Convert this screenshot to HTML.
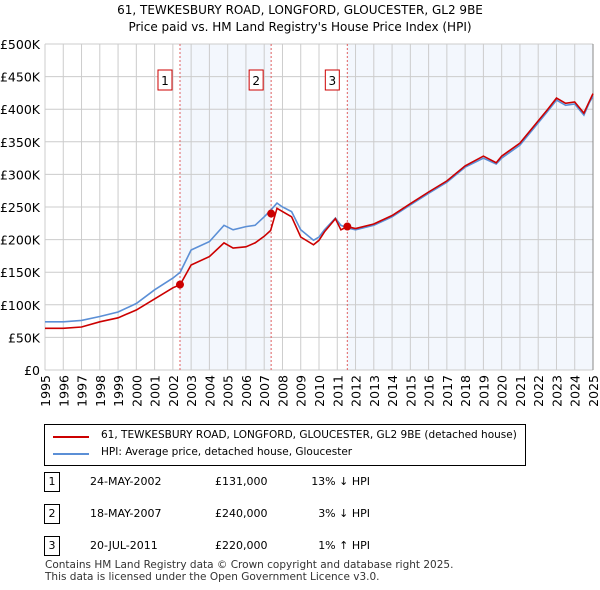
<!DOCTYPE html>
<html><head><meta charset="utf-8"><style>
body{margin:0;background:#fff;font-family:"DejaVu Sans","Liberation Sans",sans-serif;}
#wrap{position:relative;width:600px;height:590px;overflow:hidden}
.t{position:absolute;font-size:11px;color:#000;white-space:nowrap}
</style></head><body><div id="wrap">
<div class="t" style="left:0;width:600px;text-align:center;top:3px;font-size:12px">61, TEWKESBURY ROAD, LONGFORD, GLOUCESTER, GL2 9BE</div>
<div class="t" style="left:0;width:600px;text-align:center;top:20px;font-size:12px">Price paid vs. HM Land Registry's House Price Index (HPI)</div>
<svg id="c" width="600" height="420" style="position:absolute;left:0;top:0"></svg>
<div style="position:absolute;left:44px;top:424px;width:480px;height:40px;border:1px solid #000">
 <div style="position:absolute;left:8px;top:11px;width:36px;height:2px;background:#cc0000"></div>
 <div class="t" style="left:56px;top:4px;font-size:10.5px">61, TEWKESBURY ROAD, LONGFORD, GLOUCESTER, GL2 9BE (detached house)</div>
 <div style="position:absolute;left:8px;top:28px;width:36px;height:2px;background:#5b8fd6"></div>
 <div class="t" style="left:56px;top:21px;font-size:10.5px">HPI: Average price, detached house, Gloucester</div>
</div>
<div id="tbl"></div>
<div class="t" style="left:45px;top:559px;font-size:10.5px;color:#333">Contains HM Land Registry data © Crown copyright and database right 2025.</div>
<div class="t" style="left:45px;top:571px;font-size:10.5px;color:#333">This data is licensed under the Open Government Licence v3.0.</div>
</div>
<script>
const years=[1995,1996,1997,1998,1999,2000,2001,2002,2002.4,2003,2004,2004.8,2005.3,2006,2006.5,2007,2007.35,2007.7,2008,2008.5,2009,2009.7,2010,2010.3,2010.9,2011.2,2011.55,2012,2013,2014,2015,2016,2017,2018,2019,2019.7,2020,2021,2022,2022.5,2023,2023.5,2024,2024.5,2024.8,2025];
const hpi=[74,74,76,82,89,102,123,141,150,184,197,222,215,220,222,235,245,256,250,243,215,199,204,215,233,222,218,215,222,235,253,271,288,311,325,316,325,345,379,396,414,406,408,391,410,420];
const paid=[64,64,66,74,80,92,109,126,131,161,174,195,187,189,195,205,214,248,243,235,204,192,199,212,232,215,220,217,224,237,255,273,290,313,328,318,328,348,382,399,417,409,411,394,412,424];
const yTicks=[0,50,100,150,200,250,300,350,400,450,500];
const yLabels=["£0","£50K","£100K","£150K","£200K","£250K","£300K","£350K","£400K","£450K","£500K"];
const xTicks=[1995,1996,1997,1998,1999,2000,2001,2002,2003,2004,2005,2006,2007,2008,2009,2010,2011,2012,2013,2014,2015,2016,2017,2018,2019,2020,2021,2022,2023,2024,2025];
const saleYears=[2002.39,2007.38,2011.55];
const saleValues=[131,240,220];
const saleLabels=["1","2","3"];
const saleDates=["24-MAY-2002","18-MAY-2007","20-JUL-2011"];
const salePrices=["£131,000","£240,000","£220,000"];
const saleHpi=["13% ↓ HPI","3% ↓ HPI","1% ↑ HPI"];
const X0=45,X1=593,Y0=370,Y1=44;
const xs=y=>X0+(y-1995)/30*(X1-X0);
const ys=v=>Y0-v/500*(Y0-Y1);
const NS="http://www.w3.org/2000/svg",svg=document.getElementById('c');
const FF='DejaVu Sans, Liberation Sans, sans-serif';
function mk(t,a,p){const e=document.createElementNS(NS,t);for(const k in a)e.setAttribute(k,a[k]);(p||svg).appendChild(e);return e;}
let e;
e=mk('rect',{x:xs(saleYears[0]),y:Y1,width:xs(saleYears[1])-xs(saleYears[0]),height:Y0-Y1,fill:'#eef3fc',opacity:0.7});

e=mk('rect',{x:xs(saleYears[2]),y:Y1,width:X1-xs(saleYears[2]),height:Y0-Y1,fill:'#eef3fc',opacity:0.7});

yTicks.forEach((v,i)=>{
 e=mk('line',{x1:X0,x2:X1,y1:ys(v),y2:ys(v),stroke:'#cccccc'});
 
 e=mk('text',{x:40,y:ys(v)+5,'text-anchor':'end','font-size':12.5,fill:'#000','font-family':FF});e.textContent=yLabels[i];
 
});
xTicks.forEach(y=>{
 e=mk('line',{x1:xs(y),x2:xs(y),y1:Y1,y2:Y0,stroke:'#cccccc'});
 
 e=mk('text',{x:0,y:0,'text-anchor':'end','font-size':12.5,fill:'#000','font-family':FF,transform:`translate(${xs(y)+5},375) rotate(-90)`});e.textContent=y;
 
});
e=mk('line',{x1:X1,x2:X1,y1:Y1,y2:Y0,stroke:'#888'});

saleYears.forEach((y,i)=>{
 e=mk('line',{x1:xs(y),x2:xs(y),y1:Y1,y2:Y0,stroke:'#e06060','stroke-dasharray':'2,2'});
 
 e=mk('rect',{x:xs(y)-22,y:70,width:14,height:20,fill:'#fff',stroke:'#cc0000'});
 
 e=mk('text',{x:xs(y)-15,y:85,'text-anchor':'middle','font-size':12,'font-family':FF});e.textContent=saleLabels[i];
 
});
const pts=arr=>arr.map((v,i)=>xs(years[i]).toFixed(1)+','+ys(v).toFixed(1)).join(' ');
e=mk('polyline',{points:pts(hpi),fill:'none',stroke:'#5b8fd6','stroke-width':1.6});

e=mk('polyline',{points:pts(paid),fill:'none',stroke:'#cc0000','stroke-width':1.6});

saleYears.forEach((y,i)=>{
 e=mk('circle',{cx:xs(y),cy:ys(saleValues[i]),r:4,fill:'#cc0000'});
 
});
const tbl=document.getElementById('tbl');
saleDates.forEach((d,i)=>{
 const top=472+i*32;
 const r=document.createElement('div');
 
 r.style.cssText=`position:absolute;left:0;top:${top}px;width:600px;height:20px;font-size:11px`;
 r.innerHTML=`<div style="position:absolute;left:44px;top:0;width:14px;height:18px;border:1px solid #000;text-align:center;line-height:18px">${saleLabels[i]}</div><div class="t" style="left:90px;top:3px;font-size:11px">${d}</div><div class="t" style="left:215px;top:3px;font-size:11px">${salePrices[i]}</div><div class="t" style="left:290px;width:80px;text-align:right;top:3px;font-size:11px">${saleHpi[i]}</div>`;
 tbl.appendChild(r);
});
</script></body></html>
